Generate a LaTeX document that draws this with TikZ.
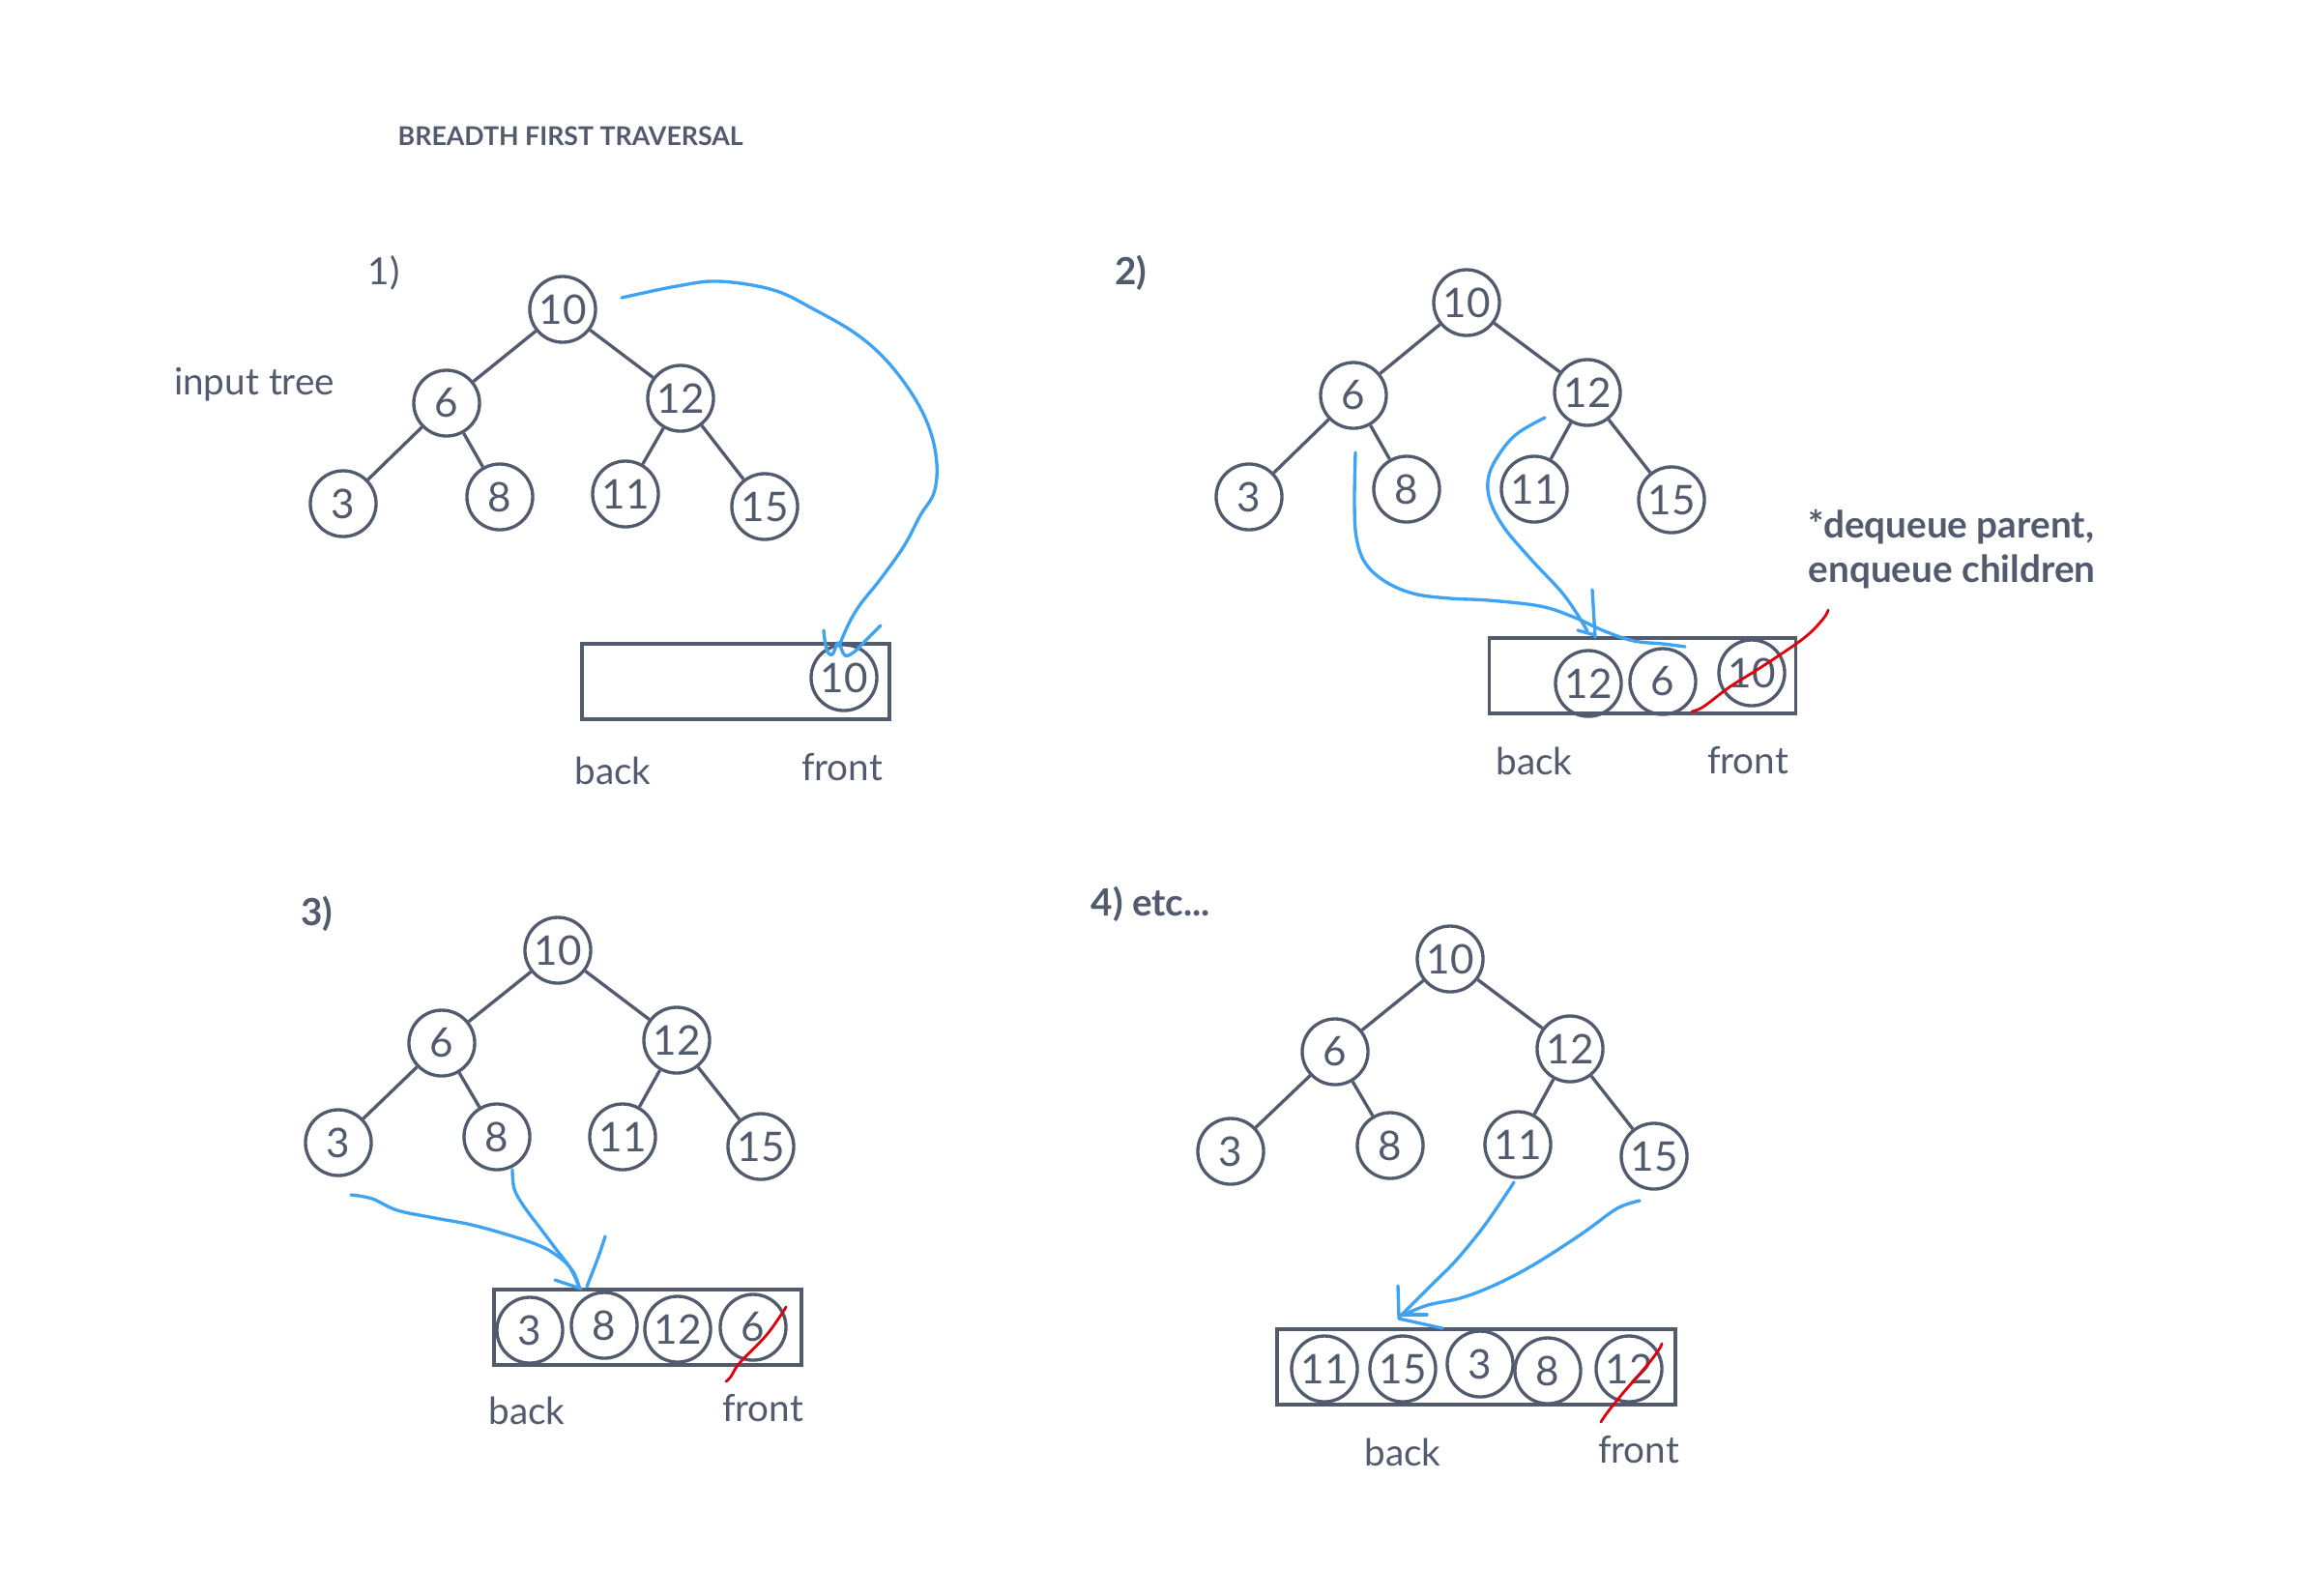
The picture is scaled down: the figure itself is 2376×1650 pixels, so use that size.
\documentclass[tikz,border=0pt]{standalone}
\usepackage{fontspec}
\setmainfont{Lato}
\definecolor{inkc}{HTML}{525A6E}
\definecolor{bluec}{HTML}{3FA3F4}
\definecolor{redc}{HTML}{E0000A}
\begin{document}
\begin{tikzpicture}[x=0.01cm,y=-0.01cm,
  tn/.style={circle,draw=inkc,line width=0.95pt,minimum size=0.68cm,inner sep=0pt,text=inkc,font=\fontsize{12}{14}\selectfont},
  qbox/.style={draw=inkc,line width=0.95pt,inner sep=0pt,minimum height=0.78cm},
  edge/.style={draw=inkc,line width=0.95pt},
  lbl/.style={text=inkc,font=\fontsize{11}{13}\selectfont,inner sep=0pt},
  blbl/.style={text=inkc,font=\fontsize{11}{13}\bfseries\selectfont,inner sep=0pt},
  bluel/.style={draw=bluec,line width=0.95pt,line cap=round,line join=round},
  redl/.style={draw=redc,line width=0.8pt,line cap=round,line join=round}
]
\useasboundingbox (0,0) rectangle (2376,1650);

% title
\node[text=inkc,font=\fontsize{7.6}{9}\bfseries\selectfont,anchor=west,inner sep=0pt] (title) at (411,141) {BREADTH FIRST TRAVERSAL};

% ---------------- panel 1
\node[lbl] (n1) at (397,282) {1)};
\node[lbl] (inp) at (263,398) {input tree};
\node[tn] (a10) at (582,320) {10};
\node[tn] (a6) at (462,417) {6};
\node[tn] (a12) at (704,412) {12};
\node[tn] (a3) at (355,521) {3};
\node[tn] (a8) at (517,514) {8};
\node[tn] (a11) at (647,511) {11};
\node[tn] (a15) at (791,524) {15};
\draw[edge] (a10)--(a6) (a10)--(a12) (a6)--(a3) (a6)--(a8) (a12)--(a11) (a12)--(a15);
\node[qbox,minimum width=3.18cm] (qa) at (761,705) {};
\node[tn] (qa10) at (873,701) {10};
\node[lbl] (ba) at (634,797) {back};
\node[lbl] (fa) at (871,794) {front};
\coordinate (sa) at (643,308);
\coordinate (ea) at (868,668);
\draw[bluel] plot[smooth,tension=0.6] coordinates {(sa) (700,296) (744,291) (800,300) (842,320) (885,345) (917,373) (945,410) (962,445) (969,480) (966,510) (952,533) (935,565) (910,600) (890,625) (878,645) (ea)};
\draw[bluel] plot[smooth,tension=0.6] coordinates {(852,652) (855,672) (861,677) (867,665) (874,678) (884,674) (896,662) (911,647)};

% ---------------- panel 2
\node[blbl] (n2) at (1170,282) {2)};
\node[tn] (b10) at (1517,313) {10};
\node[tn] (b6) at (1400,409) {6};
\node[tn] (b12) at (1642,406) {12};
\node[tn] (b3) at (1292,514) {3};
\node[tn] (b8) at (1455,506) {8};
\node[tn] (b11) at (1587,506) {11};
\node[tn] (b15) at (1729,517) {15};
\draw[edge] (b10)--(b6) (b10)--(b12) (b6)--(b3) (b6)--(b8) (b12)--(b11) (b12)--(b15);
\node[qbox,minimum width=3.17cm] (qb) at (1699,699) {};
\node[tn] (qb12) at (1643,707) {12};
\node[tn] (qb6) at (1720,705) {6};
\node[tn] (qb10) at (1812,696) {10};
\node[lbl] (bb) at (1587,787) {back};
\node[lbl] (fb) at (1808,787) {front};
\node[blbl,anchor=west,align=left] (note) at (1870,568) {*dequeue parent,\\enqueue children};
\coordinate (sb1) at (1402,468);
\coordinate (eb1) at (1743,669);
\coordinate (sb2) at (1598,432);
\coordinate (eb2) at (1642,653);
\draw[bluel] plot[smooth,tension=0.6] coordinates {(sb1) (1401,520) (1403,556) (1412,582) (1432,601) (1462,614) (1500,619) (1540,621) (1593,627) (1627,638) (1660,653) (1690,663) (1720,666) (eb1)};
\draw[bluel] plot[smooth,tension=0.6] coordinates {(sb2) (1570,448) (1552,468) (1540,492) (1541,517) (1556,546) (1585,580) (1614,611) (1630,633) (eb2)};
\draw[bluel] (1647,610) -- (1650,659) (1632,652) -- (1650,657);
\draw[redl] plot[smooth,tension=0.6] coordinates {(1750,736) (1762,731) (1790,710) (1822,690) (1866,660) (1886,640) (1891,631)};

% ---------------- panel 3
\node[blbl] (n3) at (328,945) {3)};
\node[tn] (c10) at (577,983) {10};
\node[tn] (c6) at (457,1079) {6};
\node[tn] (c12) at (700,1076) {12};
\node[tn] (c3) at (350,1182) {3};
\node[tn] (c8) at (514,1176) {8};
\node[tn] (c11) at (644,1176) {11};
\node[tn] (c15) at (787,1186) {15};
\draw[edge] (c10)--(c6) (c10)--(c12) (c6)--(c3) (c6)--(c8) (c12)--(c11) (c12)--(c15);
\node[qbox,minimum width=3.18cm] (qc) at (670,1373) {};
\node[tn] (qc3) at (548,1376) {3};
\node[tn] (qc8) at (625,1371) {8};
\node[tn] (qc12) at (701,1375) {12};
\node[tn] (qc6) at (779,1373) {6};
\node[lbl] (bc) at (545,1459) {back};
\node[lbl] (fc) at (789,1457) {front};
\coordinate (sc1) at (363,1236);
\coordinate (sc2) at (530,1210);
\coordinate (ec) at (599,1331);
\draw[bluel] plot[smooth,tension=0.6] coordinates {(sc1) (385,1240) (411,1252) (450,1260) (492,1268) (549,1285) (575,1298) (592,1314) (ec)};
\draw[bluel] plot[smooth,tension=0.6] coordinates {(sc2) (532,1230) (542,1248) (560,1272) (575,1292) (590,1312) (ec)};
\draw[bluel] plot[smooth,tension=0.6] coordinates {(626,1279) (619,1300) (607,1331)};
\draw[bluel] (574,1324) -- (601,1333);
\draw[redl] plot[smooth,tension=0.6] coordinates {(751,1429) (756,1424) (765,1410) (792,1382) (808,1360) (813,1352)};

% ---------------- panel 4
\node[blbl,anchor=west] (n4) at (1128,935) {4) etc...};
\node[tn] (d10) at (1500,992) {10};
\node[tn] (d6) at (1381,1088) {6};
\node[tn] (d12) at (1624,1085) {12};
\node[tn] (d3) at (1273,1191) {3};
\node[tn] (d8) at (1438,1185) {8};
\node[tn] (d11) at (1570,1184) {11};
\node[tn] (d15) at (1711,1196) {15};
\draw[edge] (d10)--(d6) (d10)--(d12) (d6)--(d3) (d6)--(d8) (d12)--(d11) (d12)--(d15);
\node[qbox,minimum width=4.12cm] (qd) at (1527,1414) {};
\node[tn] (qd11) at (1370,1416) {11};
\node[tn] (qd15) at (1451,1416) {15};
\node[tn] (qd3) at (1531,1411) {3};
\node[tn] (qd8) at (1601,1418) {8};
\node[tn] (qd12) at (1685,1416) {12};
\node[lbl] (bd) at (1451,1502) {back};
\node[lbl] (fd) at (1695,1500) {front};
\coordinate (sd1) at (1566,1223);
\coordinate (sd2) at (1696,1242);
\coordinate (ed) at (1448,1362);
\draw[bluel] plot[smooth,tension=0.6] coordinates {(sd1) (1548,1250) (1530,1275) (1505,1305) (1481,1329) (ed)};
\draw[bluel] plot[smooth,tension=0.6] coordinates {(sd2) (1682,1246) (1668,1253) (1638,1275) (1600,1300) (1571,1317) (1540,1332) (1510,1343) (1477,1350) (1452,1360)};
\draw[bluel] (1446,1330) -- (1447,1364) -- (1492,1374);
\draw[bluel] (1450,1360) -- (1476,1360);
\draw[redl] plot[smooth,tension=0.6] coordinates {(1656,1471) (1662,1462) (1678,1442) (1704,1412) (1716,1396) (1719,1390)};
\end{tikzpicture}
\end{document}
